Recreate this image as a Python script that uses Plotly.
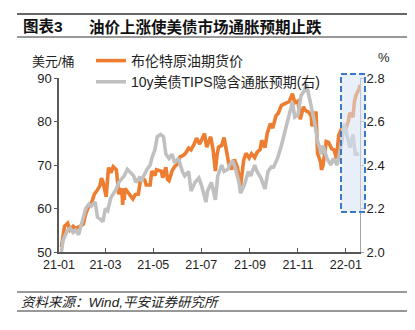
import plotly.graph_objects as go

# ---------------- data ----------------
brent_dates = [
    "2021-01-04", "2021-01-06", "2021-01-08", "2021-01-12", "2021-01-15", "2021-01-19", "2021-01-22",
    "2021-01-27", "2021-02-01", "2021-02-04", "2021-02-08", "2021-02-11", "2021-02-15", "2021-02-18",
    "2021-02-22", "2021-02-24", "2021-02-26", "2021-03-02", "2021-03-05", "2021-03-08", "2021-03-11",
    "2021-03-15", "2021-03-18", "2021-03-22", "2021-03-23", "2021-03-24", "2021-03-25", "2021-03-26",
    "2021-03-31", "2021-04-05", "2021-04-08", "2021-04-12", "2021-04-15", "2021-04-20", "2021-04-22",
    "2021-04-27", "2021-04-29", "2021-05-03", "2021-05-05", "2021-05-11", "2021-05-13", "2021-05-17",
    "2021-05-19", "2021-05-21", "2021-05-25", "2021-05-28", "2021-06-01", "2021-06-04", "2021-06-08",
    "2021-06-11", "2021-06-15", "2021-06-18", "2021-06-22", "2021-06-25", "2021-06-29", "2021-07-01",
    "2021-07-05", "2021-07-08", "2021-07-13", "2021-07-16", "2021-07-19", "2021-07-21", "2021-07-23",
    "2021-07-27", "2021-07-30", "2021-08-03", "2021-08-05", "2021-08-09", "2021-08-12", "2021-08-16",
    "2021-08-19", "2021-08-20", "2021-08-24", "2021-08-27", "2021-08-31", "2021-09-03", "2021-09-07",
    "2021-09-10", "2021-09-14", "2021-09-16", "2021-09-20", "2021-09-23", "2021-09-27", "2021-09-30",
    "2021-10-04", "2021-10-07", "2021-10-11", "2021-10-14", "2021-10-18", "2021-10-21", "2021-10-25",
    "2021-10-28", "2021-11-01", "2021-11-04", "2021-11-08", "2021-11-10", "2021-11-15", "2021-11-18",
    "2021-11-19", "2021-11-24", "2021-11-26", "2021-11-30", "2021-12-01", "2021-12-03", "2021-12-07",
    "2021-12-10", "2021-12-14", "2021-12-17", "2021-12-20", "2021-12-23", "2021-12-28", "2021-12-31",
    "2022-01-04", "2022-01-06", "2022-01-10", "2022-01-12", "2022-01-14", "2022-01-18", "2022-01-19",
]
brent_values = [
    51.1, 54.3, 55.9, 56.6, 55.1, 55.9, 55.4,
    55.8, 56.4, 58.8, 60.6, 61.1, 63.3, 64.0,
    65.2, 67.0, 66.1, 62.7, 69.4, 68.2, 69.6,
    68.9, 63.3, 64.6, 60.8, 64.4, 62.0, 64.6,
    63.5, 62.2, 63.2, 63.3, 66.9, 66.6, 65.4,
    65.4, 68.6, 67.6, 68.9, 68.6, 67.1, 69.5,
    66.7, 66.4, 68.7, 69.6, 70.3, 71.9, 72.2,
    72.7, 73.9, 73.5, 74.8, 76.2, 74.8, 75.8,
    77.2, 74.1, 76.5, 73.6, 68.6, 72.2, 74.1,
    74.5, 76.3, 72.4, 70.3, 69.0, 71.3, 69.5,
    66.5, 65.2, 71.1, 72.7, 71.6, 72.6, 71.7,
    72.9, 73.6, 75.7, 74.0, 77.3, 79.5, 78.5,
    81.3, 81.9, 83.7, 84.0, 84.3, 84.6, 86.4,
    84.3, 84.7, 80.5, 83.4, 82.6, 82.1, 81.2,
    78.9, 82.3, 72.7, 70.6, 68.9, 69.9, 75.4,
    75.2, 73.7, 73.5, 71.5, 76.9, 78.9, 77.8,
    80.0, 82.0, 81.0, 84.7, 86.1, 87.5, 88.4,
]

bei_dates = [
    "2021-01-04", "2021-01-06", "2021-01-08", "2021-01-12", "2021-01-15", "2021-01-19", "2021-01-22",
    "2021-01-26", "2021-01-29", "2021-02-02", "2021-02-04", "2021-02-08", "2021-02-11", "2021-02-16",
    "2021-02-19", "2021-02-23", "2021-02-26", "2021-03-01", "2021-03-04", "2021-03-08", "2021-03-11",
    "2021-03-15", "2021-03-18", "2021-03-22", "2021-03-25", "2021-03-29", "2021-04-01", "2021-04-06",
    "2021-04-09", "2021-04-13", "2021-04-16", "2021-04-20", "2021-04-23", "2021-04-27", "2021-04-29",
    "2021-05-03", "2021-05-06", "2021-05-10", "2021-05-14", "2021-05-17", "2021-05-21", "2021-05-25",
    "2021-05-28", "2021-06-02", "2021-06-07", "2021-06-10", "2021-06-15", "2021-06-18", "2021-06-23",
    "2021-06-28", "2021-07-01", "2021-07-07", "2021-07-09", "2021-07-14", "2021-07-19", "2021-07-22",
    "2021-07-27", "2021-07-30", "2021-08-04", "2021-08-06", "2021-08-10", "2021-08-13", "2021-08-18",
    "2021-08-20", "2021-08-25", "2021-08-30", "2021-09-02", "2021-09-07", "2021-09-10", "2021-09-15",
    "2021-09-20", "2021-09-24", "2021-09-28", "2021-10-01", "2021-10-06", "2021-10-11", "2021-10-15",
    "2021-10-18", "2021-10-22", "2021-10-25", "2021-10-28", "2021-11-01", "2021-11-05", "2021-11-09",
    "2021-11-12", "2021-11-17", "2021-11-22", "2021-11-26", "2021-12-01", "2021-12-03", "2021-12-08",
    "2021-12-13", "2021-12-16", "2021-12-21", "2021-12-27", "2021-12-30", "2022-01-03", "2022-01-06",
    "2022-01-10", "2022-01-13", "2022-01-18",
]
bei_values = [
    2.00, 2.05, 2.07, 2.10, 2.11, 2.09, 2.10,
    2.08, 2.12, 2.17, 2.20, 2.22, 2.21, 2.23,
    2.16, 2.15, 2.14, 2.20, 2.19, 2.25, 2.27,
    2.29, 2.32, 2.34, 2.35, 2.38, 2.37, 2.35,
    2.32, 2.34, 2.33, 2.36, 2.38, 2.40, 2.43,
    2.47, 2.53, 2.54, 2.53, 2.45, 2.43, 2.45,
    2.41, 2.43, 2.37, 2.35, 2.37, 2.28, 2.32,
    2.34, 2.31, 2.23, 2.28, 2.32, 2.24, 2.35,
    2.40, 2.37, 2.38, 2.40, 2.42, 2.39, 2.32,
    2.27, 2.31, 2.37, 2.35, 2.40, 2.37, 2.34,
    2.29, 2.37, 2.39, 2.39, 2.43, 2.49, 2.55,
    2.60, 2.65, 2.69, 2.62, 2.63, 2.72, 2.74,
    2.77, 2.69, 2.60, 2.51, 2.45, 2.49, 2.43,
    2.40, 2.43, 2.40, 2.51, 2.59, 2.52, 2.48,
    2.54, 2.45, 2.45,
]

brent_name = "布伦特原油期货价"
bei_name = "10y美债TIPS隐含通胀预期(右)"
x_range = ["2021-01-01", "2022-01-19"]
y_left_range = [50, 90]
y_right_range = [2.0, 2.8]

# ---------------- layout helpers ----------------
W, H = 415, 330
ML, MR, MT, MB = 59, 55, 78, 78
PW, PH = W - ML - MR, H - MT - MB


def px(x):
    return (x - ML) / PW


def py(y):
    return (H - MB - y) / PH


CJK = "Liberation Sans, Arial, Noto Sans CJK SC, sans-serif"
DARK = "#595959"

fig = go.Figure()
fig.add_trace(go.Scatter(
    x=bei_dates, y=bei_values, name=bei_name, yaxis="y2", mode="lines",
    line=dict(color="#C0C0C0", width=3.6), legendrank=2,
))
fig.add_trace(go.Scatter(
    x=brent_dates, y=brent_values, name=brent_name, yaxis="y", mode="lines",
    line=dict(color="#ED7D31", width=3.6), legendrank=1,
))

shapes = [
    dict(type="line", xref="paper", yref="paper", x0=px(17), x1=px(407), y0=py(14), y1=py(14),
         line=dict(color="#333333", width=1.6)),
    dict(type="line", xref="paper", yref="paper", x0=px(17), x1=px(407), y0=py(37), y1=py(37),
         line=dict(color="#333333", width=1)),
    dict(type="line", xref="paper", yref="paper", x0=px(17), x1=px(407), y0=py(292), y1=py(292),
         line=dict(color="#333333", width=1)),
    dict(type="line", xref="paper", yref="paper", x0=px(17), x1=px(407), y0=py(311), y1=py(311),
         line=dict(color="#333333", width=1.2)),
    dict(type="rect", xref="paper", yref="paper", x0=px(341), x1=px(365), y0=py(212), y1=py(74),
         line=dict(color="#3C78C3", width=2, dash="6px,3px"),
         fillcolor="rgba(214,226,243,0.55)", layer="above"),
]

annotations = [
    dict(text="<b>图表3</b>", x=px(21), y=py(27), xref="paper", yref="paper",
         xanchor="left", yanchor="middle", showarrow=False,
         font=dict(size=15.5, color="#111111", family=CJK)),
    dict(text="<b>油价上涨使美债市场通胀预期止跌</b>", x=px(87), y=py(27), xref="paper", yref="paper",
         xanchor="left", yanchor="middle", showarrow=False,
         font=dict(size=15.5, color="#111111", family=CJK)),
    dict(text="美元/桶", x=px(53), y=py(62), xref="paper", yref="paper",
         xanchor="center", yanchor="middle", showarrow=False,
         font=dict(size=13, color="#222222", family=CJK)),
    dict(text="%", x=px(384), y=py(58), xref="paper", yref="paper",
         xanchor="center", yanchor="middle", showarrow=False,
         font=dict(size=13, color="#222222", family=CJK)),
    dict(text="资料来源：Wind,平安证券研究所", x=px(19), y=py(302), xref="paper", yref="paper",
         xanchor="left", yanchor="middle", showarrow=False,
         font=dict(size=13.5, color="#222222", family=CJK, style="italic")),
]

fig.update_layout(
    width=W, height=H,
    margin=dict(l=ML, r=MR, t=MT, b=MB, pad=0),
    paper_bgcolor="white", plot_bgcolor="white",
    font=dict(family=CJK, size=12, color="#222222"),
    showlegend=True,
    legend=dict(x=px(91), y=py(45), xanchor="left", yanchor="top",
                bgcolor="rgba(0,0,0,0)", font=dict(size=14, color="#222222", family=CJK),
                itemwidth=30, tracegroupgap=0, traceorder="normal"),
    xaxis=dict(type="date", range=x_range, tickformat="%y-%m", dtick="M2", tick0="2021-01-01",
               ticks="inside", ticklen=4, tickwidth=1, tickcolor=DARK,
               showline=True, linecolor=DARK, linewidth=2, showgrid=False, zeroline=False,
               tickfont=dict(size=12.5, color="#222222")),
    yaxis=dict(range=y_left_range, dtick=10, ticks="outside", ticklen=3, tickcolor=DARK,
               showline=True, linecolor=DARK, linewidth=1.5, showgrid=False, zeroline=False,
               tickfont=dict(size=13, color="#222222")),
    yaxis2=dict(range=y_right_range, dtick=0.2, tickformat=".1f", overlaying="y", side="right",
                ticks="outside", ticklen=3, tickcolor="#A6A6A6",
                showline=True, linecolor="#A6A6A6", linewidth=1, showgrid=False, zeroline=False,
                tickfont=dict(size=13, color="#222222")),
    shapes=shapes,
    annotations=annotations,
)

fig.write_html("out.html")
